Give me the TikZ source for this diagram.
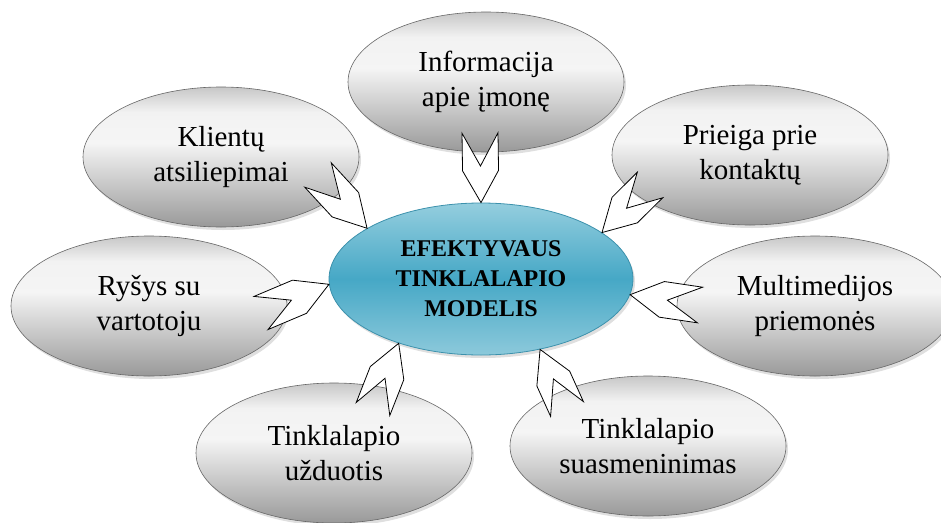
\documentclass[tikz,border=0pt]{standalone}
\usepackage{fontspec}
\setmainfont{Liberation Serif}
\usepackage{tikz}
\usetikzlibrary{shapes.geometric,shadows,calc}

\definecolor{coretop}{RGB}{148,206,222}
\definecolor{coremid}{RGB}{70,168,198}
\definecolor{corebot}{RGB}{140,201,219}
\definecolor{coreline}{RGB}{60,145,172}

\pgfdeclareverticalshading{greyball}{100bp}{color(0bp)=(black!40); color(25bp)=(black!40); color(55bp)=(black!4); color(66bp)=(black!5); color(75bp)=(black!22); color(100bp)=(black!22)}
\pgfdeclareverticalshading{tealball}{100bp}{color(0bp)=(corebot); color(25bp)=(corebot); color(50bp)=(coremid); color(75bp)=(coretop); color(100bp)=(coretop)}

\begin{document}
\begin{tikzpicture}[x=1pt,y=-1pt]
    \tikzset{bubble/.style = {shape=ellipse,draw=black!60,line width=0.6pt,shading=greyball,
        drop shadow={opacity=0.25,shadow xshift=2pt,shadow yshift=-3pt},
        minimum width=276pt,minimum height=140pt,inner sep=0pt,align=center,
        font=\fontsize{29}{35}\selectfont}}
    \tikzset{core/.style = {shape=ellipse,draw=coreline,line width=0.8pt,shading=tealball,
        drop shadow={opacity=0.25,shadow xshift=2pt,shadow yshift=-3pt},
        minimum width=304pt,minimum height=152pt,inner sep=0pt,align=center,
        font=\fontsize{24}{30}\selectfont\bfseries}}
    \tikzset{edge/.style = {draw=black,line width=0.8pt,fill=white,line join=miter,
        to path={($(\tikztostart)!18pt!90:(\tikztotarget)$)
            -- ($(\tikztostart)!33pt!(\tikztotarget)$)
            -- ($(\tikztostart)!18pt!-90:(\tikztotarget)$)
            -- ($(\tikztotarget)!32pt!(\tikztostart)!18pt!-90:(\tikztotarget)$)
            -- (\tikztotarget)
            -- ($(\tikztotarget)!32pt!(\tikztostart)!18pt!90:(\tikztotarget)$)
            -- cycle}}}

    \useasboundingbox (0,0) rectangle (941,522);

    \node[bubble] (a) at (486, 82) {Informacija\\apie įmonę};
    \node[bubble] (b) at (221,157) {Klientų\\atsiliepimai};
    \node[bubble] (c) at (750,155) {Prieiga prie\\kontaktų};
    \node[bubble] (d) at (149,306) {Ryšys su\\vartotoju};
    \node[bubble] (e) at (815,306) {Multimedijos\\priemonės};
    \node[bubble] (f) at (334,453) {Tinklalapio\\užduotis};
    \node[bubble] (g) at (648,446) {Tinklalapio\\suasmeninimas};

    \node[core] (m) at (481,279) {EFEKTYVAUS\\TINKLALAPIO\\MODELIS};

    \coordinate (ta) at (480,133);
    \coordinate (tb) at (318,175);
    \coordinate (tc) at (650,185);
    \coordinate (td) at (261,313);
    \coordinate (te) at (700,305);
    \coordinate (tf) at (373,409);
    \coordinate (tg) at (567,409);

    \draw[edge] (ta) to (m.90);
    \draw[edge] (tb) to (m.156);
    \draw[edge] (tc) to (m.21);
    \draw[edge] (td) to (m.182);
    \draw[edge] (te) to (m.354);
    \draw[edge] (tf) to (m.218);
    \draw[edge] (tg) to (m.310);

  \end{tikzpicture}
\end{document}
